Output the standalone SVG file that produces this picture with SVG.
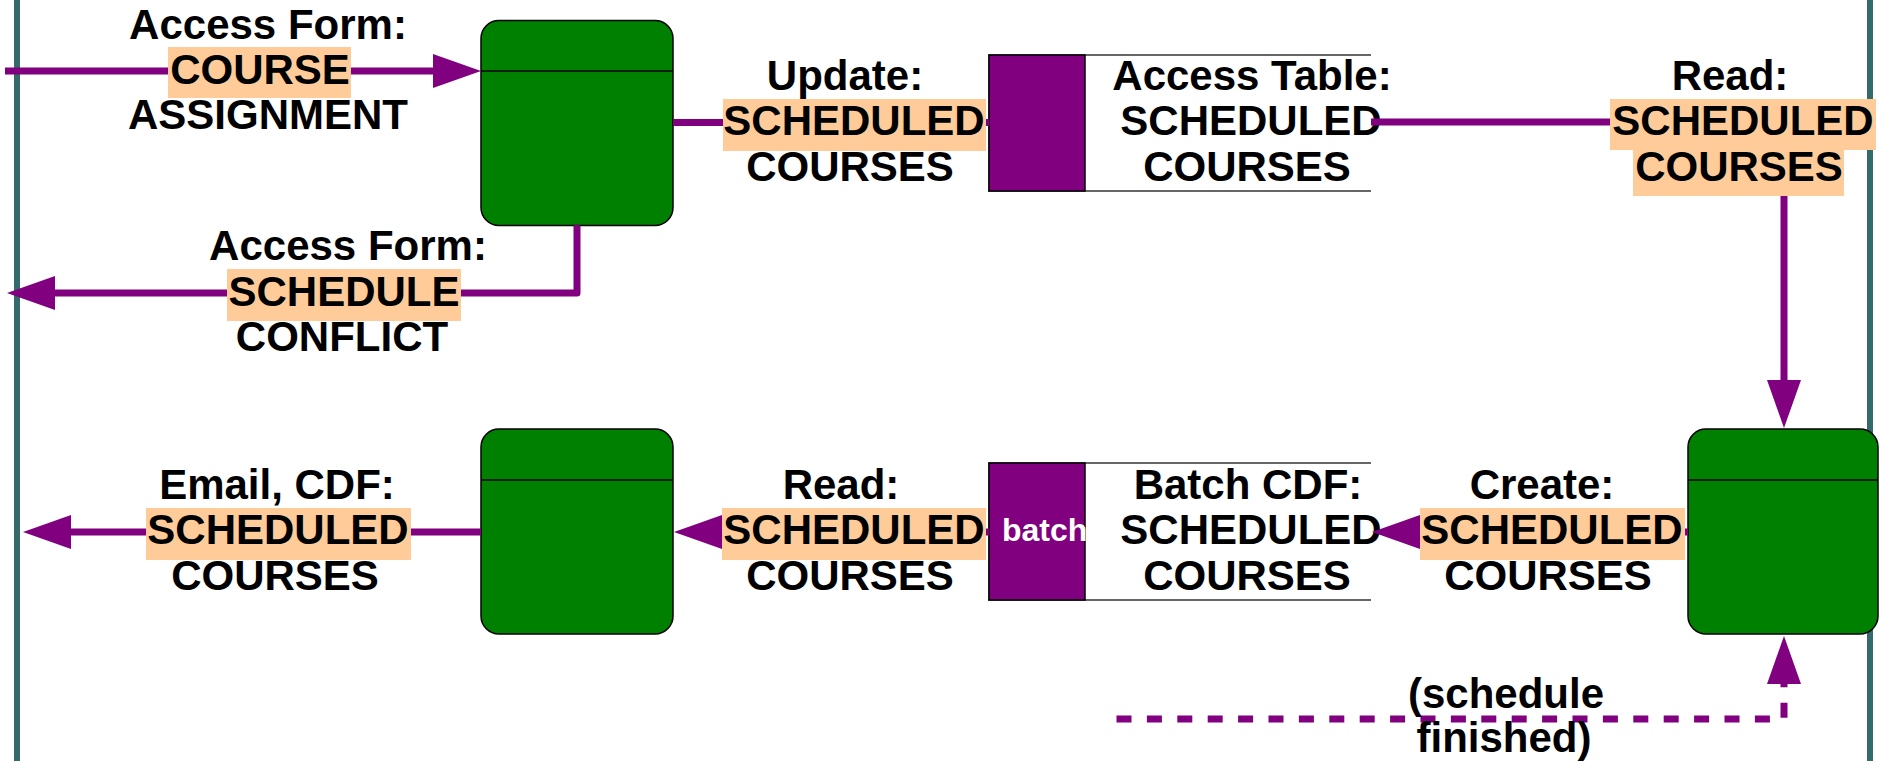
<svg xmlns="http://www.w3.org/2000/svg" width="1879" height="761" viewBox="0 0 1879 761">
<defs>
<style>
.lane{stroke:#356a6a;stroke-width:6;fill:none}
.proc{fill:#008000;stroke:#000;stroke-width:1.5}
.div{stroke:#000;stroke-width:1.5}
.storeline{fill:none;stroke:#666;stroke-width:2}
.storeid{fill:#800080;stroke:#000;stroke-width:1.5}
.flow{fill:none;stroke:#800080;stroke-width:7;stroke-linejoin:round}
.dash{stroke-dasharray:15 15.4}
.hl{fill:#FFCC99}
text{font-family:"Liberation Sans",Arial,Helvetica,sans-serif;font-weight:bold;font-size:42px;fill:#000;text-anchor:middle}
text.w{fill:#fff;font-size:32px;text-anchor:start}
</style>
<marker id="arr" viewBox="0 0 48 34" refX="0" refY="17" markerWidth="48" markerHeight="34" markerUnits="userSpaceOnUse" orient="auto">
<path d="M0,0 L48,17 L0,34 Z" fill="#800080"/>
</marker>
</defs>
<g id="lanes">
<line class="lane" x1="17" y1="0" x2="17" y2="761"/>
<line class="lane" x1="1870" y1="0" x2="1870" y2="761"/>
</g>
<g id="store-access-table">
<path class="storeline" d="M1371,55 H989 V191 H1371"/>
<rect class="storeid" x="989" y="55" width="96" height="136"/>
<text x="1252" y="90">Access Table:</text>
<text x="1251" y="135">SCHEDULED</text>
<text x="1247" y="181">COURSES</text>
</g>
<g id="store-batch-cdf">
<path class="storeline" d="M1371,463 H989 V600 H1371"/>
<rect class="storeid" x="989" y="463" width="96" height="137"/>
<text class="w" x="1002" y="541">batch</text>
<text x="1248" y="499">Batch CDF:</text>
<text x="1251" y="544">SCHEDULED</text>
<text x="1247" y="590">COURSES</text>
</g>
<g id="proc-top-left">
<rect class="proc" x="481" y="20.5" width="192" height="205" rx="18" ry="18"/>
<line class="div" x1="481" y1="71" x2="673" y2="71"/>
</g>
<g id="proc-bottom-left">
<rect class="proc" x="481" y="429" width="192" height="205" rx="18" ry="18"/>
<line class="div" x1="481" y1="480" x2="673" y2="480"/>
</g>
<g id="proc-right">
<rect class="proc" x="1688" y="429" width="190" height="205" rx="18" ry="18"/>
<line class="div" x1="1688" y1="480" x2="1878" y2="480"/>
</g>
<g id="connectors">
<path class="flow" d="M5,71 H433" marker-end="url(#arr)"/>
<path class="flow" d="M577,225 V293 H55" marker-end="url(#arr)"/>
<path class="flow" d="M673,122.5 H989"/>
<path class="flow" d="M1371,122 H1784 V380" marker-end="url(#arr)"/>
<path class="flow" d="M1688,532 H1420" marker-end="url(#arr)"/>
<path class="flow" d="M989,532 H722" marker-end="url(#arr)"/>
<path class="flow" d="M481,532 H71" marker-end="url(#arr)"/>
<path class="flow dash" d="M1116.5,719 H1784 V684" marker-end="url(#arr)"/>
</g>
<g id="label-course-assignment">
<rect class="hl" x="168" y="47" width="183" height="51"/>
<text x="268" y="39">Access Form:</text>
<text x="260" y="84">COURSE</text>
<text x="268" y="129">ASSIGNMENT</text>
</g>
<g id="label-schedule-conflict">
<rect class="hl" x="227" y="269" width="234" height="52"/>
<text x="348" y="260">Access Form:</text>
<text x="344" y="306">SCHEDULE</text>
<text x="342" y="351">CONFLICT</text>
</g>
<g id="label-update">
<rect class="hl" x="723" y="99" width="263" height="52"/>
<text x="845" y="90">Update:</text>
<text x="854" y="135">SCHEDULED</text>
<text x="850" y="181">COURSES</text>
</g>
<g id="label-read-top">
<rect class="hl" x="1610" y="99" width="266" height="51"/>
<rect class="hl" x="1633" y="150" width="211" height="46"/>
<text x="1730" y="90">Read:</text>
<text x="1743" y="135">SCHEDULED</text>
<text x="1739" y="181">COURSES</text>
</g>
<g id="label-create">
<rect class="hl" x="1420" y="508" width="265" height="52"/>
<text x="1542" y="499">Create:</text>
<text x="1552" y="544">SCHEDULED</text>
<text x="1548" y="590">COURSES</text>
</g>
<g id="label-read-bottom">
<rect class="hl" x="722" y="508" width="264" height="52"/>
<text x="841" y="499">Read:</text>
<text x="854" y="544">SCHEDULED</text>
<text x="850" y="590">COURSES</text>
</g>
<g id="label-email">
<rect class="hl" x="146" y="508" width="265" height="52"/>
<text x="277" y="499">Email, CDF:</text>
<text x="278" y="544">SCHEDULED</text>
<text x="275" y="590">COURSES</text>
</g>
<g id="label-finished">
<text x="1506" y="708">(schedule</text>
<text x="1504" y="752">finished)</text>
</g>
</svg>
